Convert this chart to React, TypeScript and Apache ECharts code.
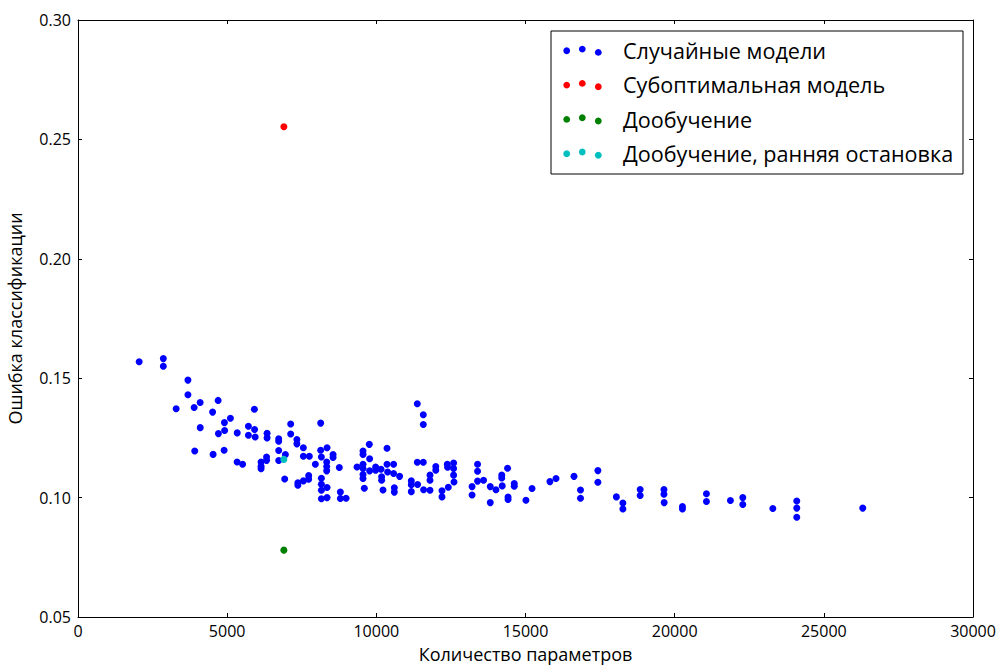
import React, { useEffect, useRef } from "react";
import * as echarts from "echarts";

// Случайные модели: количество параметров / ошибка классификации
const randomParams = [
  2050, 2860, 2860, 3685, 3685, 3290, 3893, 4094, 4697, 4512,
  4097, 3913, 4529, 4898, 4908, 5109, 4707, 4915, 5337, 5913,
  5712, 5919, 5712, 5940, 6338, 6338, 6727, 6727, 7129, 7129,
  5333, 5517, 6137, 6137, 6137, 6321, 6321, 6727, 6727, 6951,
  6928, 7337, 7337, 7554, 7554, 7755, 7370, 7370, 7554, 7732,
  7732, 7956, 8134, 8134, 8348, 8549, 8549, 8157, 8335, 8335,
  8335, 8760, 8157, 8157, 8157, 8348, 8157, 8348, 8794, 8794,
  8985, 9353, 9554, 9554, 9765, 9775, 9554, 9554, 9554, 9554,
  9598, 9775, 9976, 9976, 10157, 10177, 10177, 10358, 10358, 10378,
  10579, 10579, 10224, 10603, 10603, 10780, 11373, 11574, 11574, 11373,
  11574, 11172, 11172, 11172, 11383, 11584, 11799, 11799, 11799, 11993,
  11993, 12201, 12201, 12378, 12590, 12388, 12590, 12590, 12603, 12412,
  13393, 13393, 13393, 13209, 13209, 13594, 13819, 13819, 14010, 14204,
  14204, 14220, 14398, 14415, 14415, 14623, 14623, 15015, 15219, 15819,
  16023, 16626, 16844, 16844, 17427, 17427, 18046, 18264, 18264, 18844,
  18844, 19641, 19641, 19648, 20261, 20261, 21065, 21065, 21869, 22284,
  22284, 23290, 24093, 24093, 24093, 26304,
];
const randomError = [
  0.1569, 0.1582, 0.1550, 0.1492, 0.1431, 0.1372, 0.1377, 0.1398, 0.1407, 0.1358,
  0.1293, 0.1195, 0.1181, 0.1198, 0.1314, 0.1332, 0.1268, 0.1281, 0.1271, 0.1370,
  0.1299, 0.1285, 0.1261, 0.1254, 0.1269, 0.1250, 0.1246, 0.1236, 0.1308, 0.1266,
  0.1149, 0.1140, 0.1149, 0.1131, 0.1121, 0.1170, 0.1156, 0.1197, 0.1155, 0.1180,
  0.1078, 0.1243, 0.1225, 0.1209, 0.1173, 0.1173, 0.1062, 0.1052, 0.1070, 0.1092,
  0.1077, 0.1140, 0.1312, 0.1198, 0.1209, 0.1180, 0.1168, 0.1170, 0.1149, 0.1130,
  0.1112, 0.1126, 0.1081, 0.1056, 0.1031, 0.1042, 0.0995, 0.1000, 0.1023, 0.0996,
  0.0997, 0.1128, 0.1195, 0.1181, 0.1223, 0.1163, 0.1140, 0.1122, 0.1097, 0.1080,
  0.1039, 0.1112, 0.1128, 0.1115, 0.1119, 0.1087, 0.1073, 0.1207, 0.1140, 0.1107,
  0.1140, 0.1101, 0.1032, 0.1041, 0.1023, 0.1089, 0.1393, 0.1347, 0.1306, 0.1148,
  0.1148, 0.1070, 0.1054, 0.1025, 0.1055, 0.1033, 0.1031, 0.1094, 0.1073, 0.1130,
  0.1115, 0.1029, 0.1003, 0.1140, 0.1145, 0.1127, 0.1122, 0.1094, 0.1065, 0.1043,
  0.1140, 0.1110, 0.1069, 0.1046, 0.1011, 0.1073, 0.1046, 0.0979, 0.1033, 0.1094,
  0.1082, 0.1049, 0.1123, 0.1002, 0.0992, 0.1059, 0.1048, 0.0989, 0.1038, 0.1067,
  0.1080, 0.1089, 0.1032, 0.0997, 0.1113, 0.1064, 0.1003, 0.0977, 0.0952, 0.1034,
  0.1009, 0.1034, 0.1014, 0.0979, 0.0963, 0.0952, 0.1016, 0.0984, 0.0988, 0.1000,
  0.0971, 0.0954, 0.0986, 0.0956, 0.0918, 0.0956,
];

// Особые модели
const suboptimalParams = [6900];
const suboptimalError = [0.2553];
const finetuneParams = [6900];
const finetuneError = [0.0780];
const earlyStopParams = [6900];
const earlyStopError = [0.1160];

// Оси
const xTicks = [0, 5000, 10000, 15000, 20000, 25000, 30000];
const yTicks = [0.05, 0.10, 0.15, 0.20, 0.25, 0.30];

const legendNames = [
  "Случайные модели",
  "Субоптимальная модель",
  "Дообучение",
  "Дообучение, ранняя остановка",
];
const colors = ["#0000ff", "#ff0000", "#008000", "#00bfbf"];

const zip = (xs: number[], ys: number[]) => xs.map((x, i) => [x, ys[i]]);

export default function App() {
  const ref = useRef<HTMLDivElement>(null);
  useEffect(() => {
    if (!ref.current) return;
    const chart = echarts.init(ref.current, undefined, { renderer: "svg" });
    const font = "Open Sans";
    const xMin = xTicks[0];
    const xMax = xTicks[xTicks.length - 1];
    const xInt = xTicks[1] - xTicks[0];
    const yMin = yTicks[0];
    const yMax = yTicks[yTicks.length - 1];
    const yInt = 0.05;

    const legendX = 551;
    const legendY = 31;
    const rowH = 34.3;
    const legendGraphics: any[] = [
      {
        type: "rect",
        shape: { x: legendX, y: legendY, width: 412, height: 143 },
        style: { fill: "#fff", stroke: "#000", lineWidth: 1 },
        z: 100,
      },
    ];
    const dotOffsets = [
      [15.7, 0.3],
      [31.3, -1.4],
      [47.3, 1.9],
    ];
    legendNames.forEach((name, i) => {
      const cy = legendY + 19.5 + i * rowH;
      dotOffsets.forEach(([dx, dy]) => {
        legendGraphics.push({
          type: "circle",
          shape: { cx: legendX + dx, cy: cy + dy, r: 3.4 },
          style: { fill: colors[i] },
          z: 101,
        });
      });
      legendGraphics.push({
        type: "text",
        x: legendX + 72,
        y: cy,
        style: {
          text: name,
          fontFamily: font,
          fontSize: 21.6,
          fill: "#000",
          verticalAlign: "middle",
          textAlign: "left",
        },
        z: 101,
      });
    });

    const mkX = (pos: "bottom" | "top", show: boolean) => ({
      type: "value",
      position: pos,
      min: xMin,
      max: xMax,
      interval: xInt,
      name: show ? "Количество параметров" : "",
      nameLocation: "middle",
      nameGap: 28,
      nameTextStyle: { fontFamily: font, fontSize: 18, color: "#000" },
      axisLine: { show: true, onZero: false, lineStyle: { color: "#000", width: 1 } },
      axisTick: { show: true, inside: true, length: 4, lineStyle: { color: "#000" } },
      axisLabel: {
        show,
        margin: 6,
        fontFamily: font,
        fontSize: 16,
        color: "#000",
        formatter: (v: number) => String(v),
      },
      splitLine: { show: false },
    });
    const mkY = (pos: "left" | "right", show: boolean) => ({
      type: "value",
      position: pos,
      min: yMin,
      max: yMax,
      interval: yInt,
      name: show ? "Ошибка классификации" : "",
      nameLocation: "middle",
      nameGap: 54,
      nameTextStyle: { fontFamily: font, fontSize: 18, color: "#000" },
      axisLine: { show: true, onZero: false, lineStyle: { color: "#000", width: 1 } },
      axisTick: { show: true, inside: true, length: 4, lineStyle: { color: "#000" } },
      axisLabel: {
        show,
        margin: 7,
        fontFamily: font,
        fontSize: 16,
        color: "#000",
        formatter: (v: number) => v.toFixed(2),
      },
      splitLine: { show: false },
    });

    const mkSeries = (name: string, xs: number[], ys: number[], color: string) => ({
      type: "scatter",
      name,
      data: zip(xs, ys),
      symbol: "circle",
      symbolSize: 7,
      itemStyle: { color, opacity: 1 },
      xAxisIndex: 0,
      yAxisIndex: 0,
      emphasis: { disabled: true },
    });

    chart.setOption({
      animation: false,
      backgroundColor: "#fff",
      grid: {
        left: 78,
        right: 26,
        top: 20,
        bottom: 50,
        containLabel: false,
        outerBoundsMode: "none",
      },
      xAxis: [mkX("bottom", true), mkX("top", false)],
      yAxis: [mkY("left", true), mkY("right", false)],
      series: [
        mkSeries(legendNames[0], randomParams, randomError, colors[0]),
        mkSeries(legendNames[1], suboptimalParams, suboptimalError, colors[1]),
        mkSeries(legendNames[2], finetuneParams, finetuneError, colors[2]),
        mkSeries(legendNames[3], earlyStopParams, earlyStopError, colors[3]),
      ],
      graphic: legendGraphics,
    });
    return () => chart.dispose();
  }, []);
  return <div ref={ref} style={{ width: 999, height: 667, position: "absolute", left: 0, top: 0 }} />;
}
